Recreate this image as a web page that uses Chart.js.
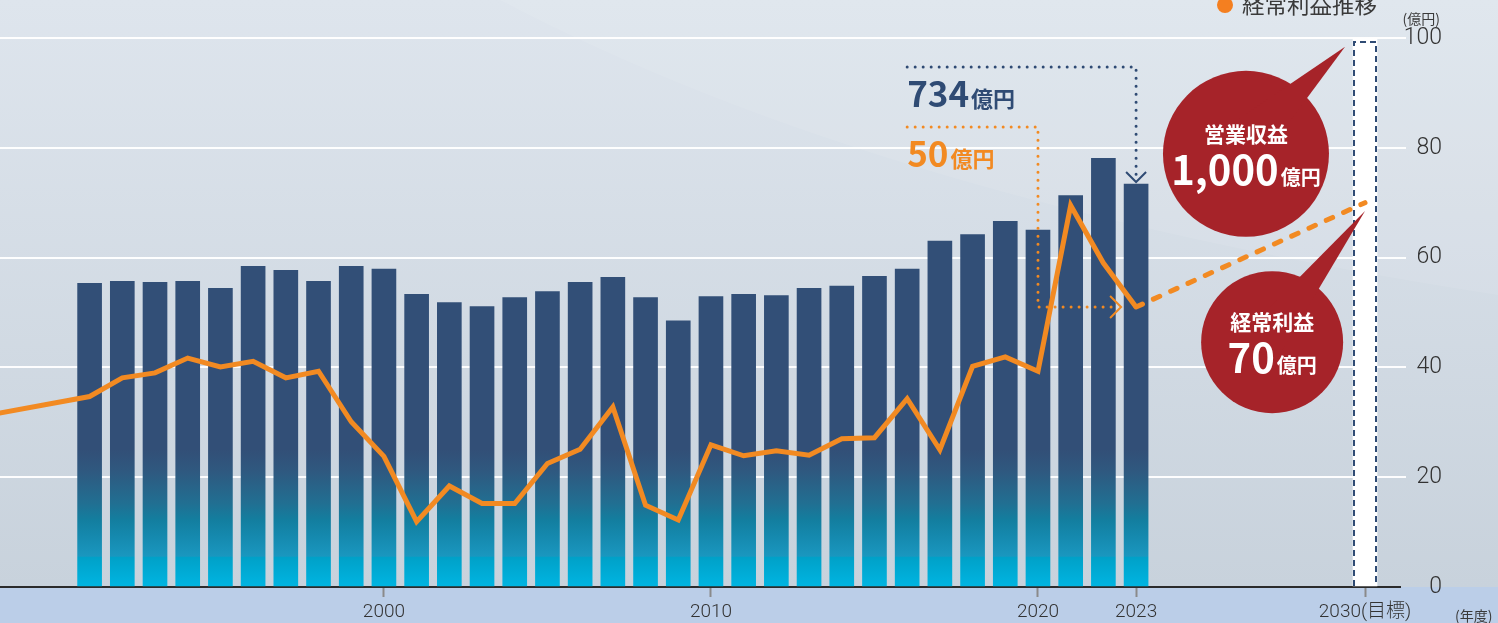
<!DOCTYPE html>
<html lang="ja">
<head>
<meta charset="utf-8">
<title>営業収益・経常利益推移</title>
<script src="https://cdn.jsdelivr.net/npm/chart.js@4.4.1/dist/chart.umd.min.js"></script>
<style>
  html, body { margin: 0; padding: 0; overflow: hidden; background: #d5dde6; }
  #chart { display: block; }
</style>
</head>
<body>
<canvas id="chart" width="1498" height="623"></canvas>
<script>
// 年度
const years = [1991, 1992, 1993, 1994, 1995, 1996, 1997, 1998, 1999, 2000,
               2001, 2002, 2003, 2004, 2005, 2006, 2007, 2008, 2009, 2010,
               2011, 2012, 2013, 2014, 2015, 2016, 2017, 2018, 2019, 2020,
               2021, 2022, 2023];
// 営業収益 (10億円単位で読み取り)
const revenue = [55.3, 55.7, 55.5, 55.7, 54.4, 58.4, 57.7, 55.7, 58.4, 57.9,
                 53.3, 51.8, 51.1, 52.7, 53.8, 55.5, 56.4, 52.7, 48.5, 52.9,
                 53.3, 53.1, 54.4, 54.8, 56.6, 57.9, 63.0, 64.2, 66.6, 65.0,
                 71.3, 78.1, 73.4];
// 経常利益推移 (億円) 1988 は左端で切れている点
const profitYears = [1988, 1991, 1992, 1993, 1994, 1995, 1996, 1997, 1998, 1999, 2000,
                     2001, 2002, 2003, 2004, 2005, 2006, 2007, 2008, 2009, 2010,
                     2011, 2012, 2013, 2014, 2015, 2016, 2017, 2018, 2019, 2020,
                     2021, 2022, 2023];
const profit = [31.4, 34.7, 38.1, 39.0, 41.7, 40.1, 41.1, 38.1, 39.3, 30.1, 23.8,
                11.9, 18.4, 15.2, 15.2, 22.5, 25.1, 32.8, 14.9, 12.2, 25.9,
                23.9, 24.8, 24.0, 27.0, 27.2, 34.3, 25.0, 40.2, 41.9, 39.3,
                69.5, 59.0, 51.0];
// 2030 目標
const planYears = [2023, 2030];
const planProfit = [51.0, 70];
const targetYears = [2030];
const targetRevenue = [100];
const xTickYears = [2000, 2010, 2020, 2023, 2030];

const NAVY = '#2f4b74';
const ORANGE = '#f28a22';
const RED = '#a62329';
const JP = '"Noto Sans CJK JP", "Noto Sans", sans-serif';
const NUM = 'Roboto, "Liberation Sans", "Noto Sans CJK JP", sans-serif';

const pts = (xs, ys) => xs.map((x, i) => ({ x: x, y: ys[i] }));

// bars: navy on top, fading to cyan near the axis
function barFill(context) {
  const chart = context.chart;
  if (!chart.chartArea) return NAVY;
  const y = chart.scales.y;
  const g = chart.ctx.createLinearGradient(0, y.getPixelForValue(0), 0, y.getPixelForValue(25));
  g.addColorStop(0, '#00b5e2');
  g.addColorStop(0.215, '#00a1c8');
  g.addColorStop(0.225, '#1a97bf');
  g.addColorStop(0.37, '#1589ae');
  g.addColorStop(0.49, '#137e9f');
  g.addColorStop(0.61, '#216f92');
  g.addColorStop(0.85, '#2f587f');
  g.addColorStop(1, '#324f77');
  return g;
}

function dotted(c, list, color) {
  c.save();
  c.strokeStyle = color;
  c.lineWidth = 3;
  c.lineCap = 'round';
  c.setLineDash([0, 8]);
  c.beginPath();
  list.forEach((p, i) => i ? c.lineTo(p[0], p[1]) : c.moveTo(p[0], p[1]));
  c.stroke();
  c.restore();
}

function chevron(c, list, color) {
  c.save();
  c.strokeStyle = color;
  c.lineWidth = 2;
  c.beginPath();
  list.forEach((p, i) => i ? c.lineTo(p[0], p[1]) : c.moveTo(p[0], p[1]));
  c.stroke();
  c.restore();
}

function amount(c, x, base, num, bigSize, smallSize, color, centered) {
  c.save();
  c.fillStyle = color;
  c.textBaseline = 'alphabetic';
  c.textAlign = 'left';
  c.font = 'bold ' + bigSize + 'px ' + JP;
  const w1 = c.measureText(num).width;
  c.font = 'bold ' + smallSize + 'px ' + JP;
  const w2 = c.measureText('億円').width;
  const x0 = centered ? x - (w1 + 2 + w2) / 2 : x;
  c.font = 'bold ' + bigSize + 'px ' + JP;
  c.fillText(num, x0, base);
  c.font = 'bold ' + smallSize + 'px ' + JP;
  c.fillText('億円', x0 + w1 + 2, base);
  c.restore();
}

function callout(c, cx, cy, r, tip, b1, b2, title, num) {
  c.save();
  c.fillStyle = RED;
  c.beginPath();
  c.arc(cx, cy, r, 0, Math.PI * 2);
  c.fill();
  c.beginPath();
  c.moveTo(tip[0], tip[1]);
  c.lineTo(cx + b1[0], cy + b1[1]);
  c.lineTo(cx + b2[0], cy + b2[1]);
  c.closePath();
  c.fill();
  c.fillStyle = '#fff';
  c.textAlign = 'center';
  c.textBaseline = 'middle';
  c.font = 'bold 21px ' + JP;
  c.fillText(title, cx, cy - 20);
  c.restore();
  amount(c, cx, cy + 31, num, 40, 20, '#fff', true);
}

const decor = {
  id: 'decor',
  beforeDraw(chart) {
    const c = chart.ctx, a = chart.chartArea, W = chart.width, H = chart.height;
    c.save();
    const bg = c.createLinearGradient(0, 0, 0, a.bottom);
    bg.addColorStop(0, '#dee5ed');
    bg.addColorStop(1, '#c8d2dc');
    c.fillStyle = bg;
    c.fillRect(0, 0, W, a.bottom);
    // faint sheen in the upper right
    c.fillStyle = 'rgba(255,255,255,0.08)';
    c.beginPath();
    c.moveTo(500, 0);
    c.quadraticCurveTo(880, 200, W, 295);
    c.lineTo(W, 0);
    c.closePath();
    c.fill();
    c.fillStyle = '#bbcee8';
    c.fillRect(0, a.bottom, W, H - a.bottom);
    c.restore();
  },
  afterDatasetDraw(chart, args) {
    if (chart.data.datasets[args.index].label !== '目標') return;
    const c = chart.ctx;
    args.meta.data.forEach(bar => {
      const half = bar.width / 2;
      c.save();
      c.strokeStyle = NAVY;
      c.lineWidth = 2;
      c.setLineDash([6, 4]);
      c.beginPath();
      c.moveTo(bar.x - half + 1, bar.base);
      c.lineTo(bar.x - half + 1, bar.y + 4);
      c.lineTo(bar.x + half - 1, bar.y + 4);
      c.lineTo(bar.x + half - 1, bar.base);
      c.stroke();
      c.restore();
    });
  },
  afterDraw(chart) {
    const c = chart.ctx, a = chart.chartArea;
    const x = chart.scales.x, y = chart.scales.y;
    const X = v => x.getPixelForValue(v), Y = v => y.getPixelForValue(v);
    const last = years.length - 1;

    // 734億円 leader
    const nTop = Y(94.7), barTop = Y(revenue[last]);
    dotted(c, [[X(2016), nTop], [X(2023), nTop], [X(2023), barTop - 6]], NAVY);
    chevron(c, [[X(2023) - 10, barTop - 12], [X(2023), barTop - 2], [X(2023) + 10, barTop - 12]], NAVY);
    amount(c, X(2016), nTop + 40, '734', 35, 22, NAVY, false);

    // 50億円 leader
    const oTop = Y(83.8), pY = Y(profit[profit.length - 1]);
    dotted(c, [[X(2016), oTop], [X(2020), oTop], [X(2020), pY], [X(2023) - 18, pY]], ORANGE);
    chevron(c, [[X(2023) - 26, pY - 11], [X(2023) - 15, pY], [X(2023) - 26, pY + 11]], ORANGE);
    amount(c, X(2016), oTop + 40, '50', 35, 22, ORANGE, false);

    // target callouts
    callout(c, X(2026.36), Y(78.9), 83, [X(2029.39), Y(98.4)], [-7, -35], [25, -7],
            '営業収益', (targetRevenue[0] * 10).toLocaleString('en-US'));
    callout(c, X(2027.16), Y(44.6), 71, [X(2030), Y(68.5)], [-33, -4], [3, 20],
            '経常利益', String(planProfit[1]));

    // legend + units
    c.save();
    c.fillStyle = '#f47f20';
    c.beginPath();
    c.arc(a.right - 175, 5, 8, 0, Math.PI * 2);
    c.fill();
    c.fillStyle = '#3a3a3a';
    c.textBaseline = 'middle';
    c.textAlign = 'left';
    c.font = '22.5px ' + JP;
    c.fillText('経常利益推移', a.right - 158, 4);
    c.font = '14px ' + JP;
    c.textAlign = 'right';
    c.fillText('(億円)', a.right + 40, 18.5);
    c.textAlign = 'left';
    c.fillText('(年度)', a.right + 55, 616);
    c.restore();
  }
};

new Chart(document.getElementById('chart'), {
  type: 'bar',
  data: {
    datasets: [
      {
        type: 'line',
        label: '経常利益推移',
        data: pts(profitYears, profit),
        borderColor: ORANGE,
        borderWidth: 5,
        pointRadius: 0,
        tension: 0,
        order: 0
      },
      {
        type: 'line',
        label: '経常利益目標',
        data: pts(planYears, planProfit),
        borderColor: ORANGE,
        borderWidth: 5,
        borderDash: [7, 12],
        borderCapStyle: 'round',
        pointRadius: 0,
        order: 0
      },
      {
        type: 'bar',
        label: '営業収益',
        data: pts(years, revenue),
        backgroundColor: barFill,
        barThickness: 24,
        grouped: false,
        order: 2
      },
      {
        type: 'bar',
        label: '目標',
        data: pts(targetYears, targetRevenue),
        backgroundColor: '#ffffff',
        barThickness: 24,
        grouped: false,
        order: 1
      }
    ]
  },
  options: {
    responsive: false,
    animation: false,
    events: [],
    layout: { padding: { top: 38, right: 56, bottom: 0, left: 0 } },
    plugins: { legend: { display: false }, tooltip: { enabled: false } },
    scales: {
      x: {
        type: 'linear',
        min: 1988.26,
        max: 2031.07,
        offset: false,
        afterBuildTicks: s => { s.ticks = xTickYears.map(v => ({ value: v })); },
        afterFit: s => { s.height = 36; },
        grid: { drawOnChartArea: false, offset: false, tickLength: 10, tickColor: '#8a8a8a', tickWidth: 2 },
        border: { display: true, color: '#2b2b2b', width: 2 },
        ticks: {
          padding: 4,
          maxRotation: 0,
          autoSkip: false,
          color: '#333',
          font: { family: NUM, size: 19, weight: 300 },
          callback: v => v === 2030 ? '2030(目標)' : String(v)
        }
      },
      y: {
        position: 'right',
        min: 0,
        max: 100,
        afterFit: s => { s.width = 42; },
        grid: {
          color: t => t.tick.value === 0 ? 'rgba(0,0,0,0)' : 'rgba(255,255,255,0.95)',
          lineWidth: 2,
          tickLength: 6
        },
        border: { display: false },
        ticks: {
          stepSize: 20,
          padding: -4,
          crossAlign: 'far',
          color: '#333',
          font: { family: NUM, size: 23, weight: 300 }
        }
      }
    }
  },
  plugins: [decor]
});
</script>
</body>
</html>
